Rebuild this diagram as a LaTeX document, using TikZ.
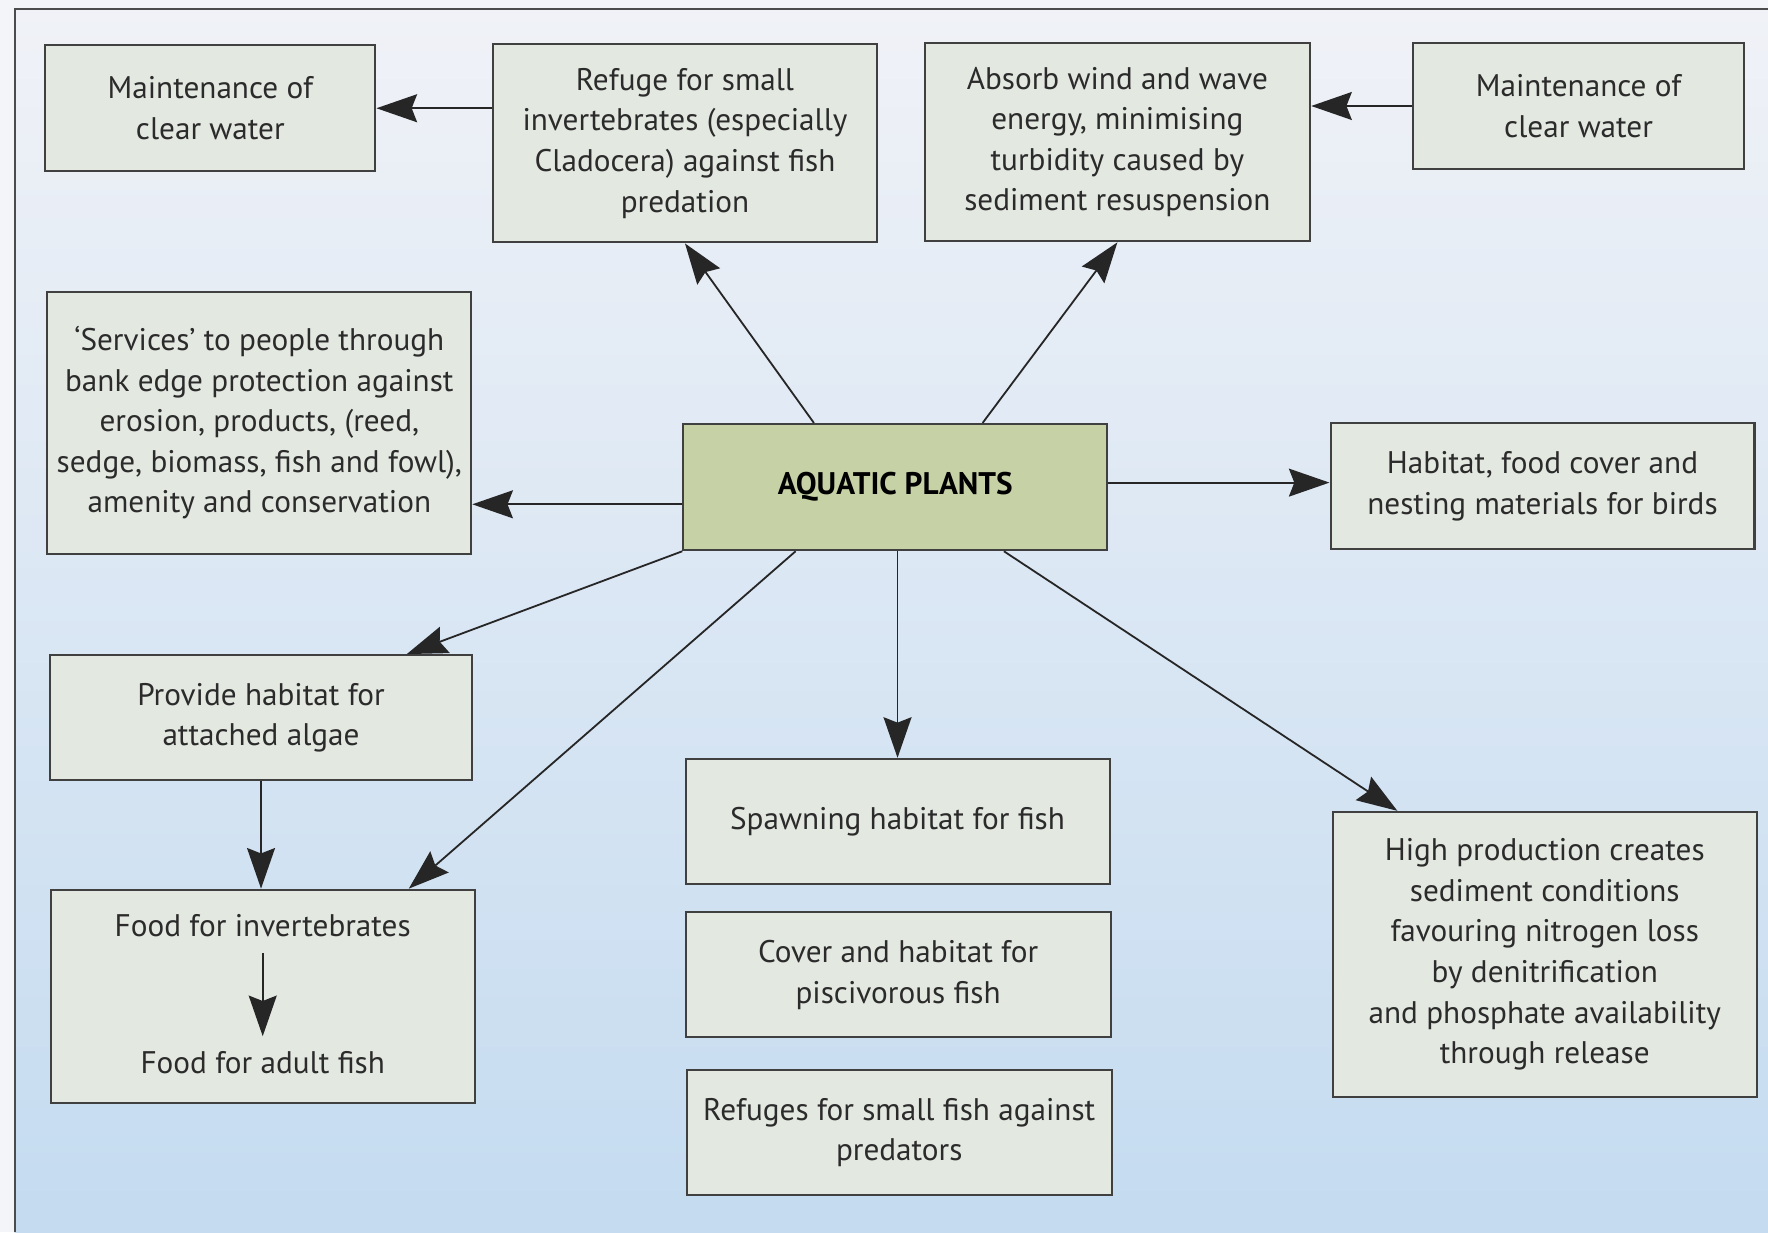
\documentclass[tikz,border=0pt]{standalone}
\usepackage{fontspec}
\setmainfont{PT Sans}
\usetikzlibrary{arrows.meta,calc}
\definecolor{boxfill}{HTML}{E3E8E1}
\definecolor{centerfill}{HTML}{C6D1A6}
\definecolor{bgtop}{HTML}{F0F2F7}
\definecolor{bgmid}{HTML}{DDE8F3}
\definecolor{bgbot}{HTML}{C4DBF0}
\definecolor{outside}{HTML}{F4F5F8}
\definecolor{txt}{HTML}{2B2B2B}
\tikzset{
  box/.style={draw=black!75, line width=0.45mm, fill=boxfill, rectangle, align=center,
    inner sep=0pt, text=txt, font=\fontsize{19.7pt}{25.6pt}\selectfont},
  plain/.style={inner sep=0pt, text=txt, font=\fontsize{19.7pt}{25.6pt}\selectfont},
  arr/.style={draw=black!85, line width=0.4mm, -{Stealth[length=9mm,width=6.2mm,inset=1.2mm]}}
}
\begin{document}
\begin{tikzpicture}[x=0.25mm, y=-0.25mm]
\useasboundingbox (0,0) rectangle (1568,1093);
\fill[outside] (0,0) rectangle (1568,1093);
\shade[top color=bgtop, middle color=bgmid, bottom color=bgbot] (13,8) rectangle (1568,1093);
\draw[black!70, line width=0.5mm] (13,1093) -- (13,8) -- (1568,8);

\node[box, minimum width=73.25mm, minimum height=28mm] (b1) at (186.5,96) {Maintenance of\\clear water};
\node[box, minimum width=85.25mm, minimum height=44mm] (b2) at (607.5,127) {Refuge for small\\invertebrates (especially\\Cladocera) against fish\\predation};
\node[box, minimum width=85.5mm, minimum height=44mm] (b3) at (991,126) {Absorb wind and wave\\energy, minimising\\turbidity caused by\\sediment resuspension};
\node[box, minimum width=73.5mm, minimum height=28mm] (b4) at (1400,94) {Maintenance of\\clear water};
\node[box, minimum width=94mm, minimum height=58mm] (b5) at (230,375) {‘Services’ to people through\\bank edge protection against\\erosion, products, (reed,\\sedge, biomass, fish and fowl),\\amenity and conservation};
\node[box, fill=centerfill, minimum width=94mm, minimum height=28mm, text=black, font=\fontsize{19.7pt}{25.6pt}\selectfont\bfseries] (c) at (794,432) {AQUATIC PLANTS};
\node[box, minimum width=94mm, minimum height=28mm] (b6) at (1368,431) {Habitat, food cover and\\nesting materials for birds};
\node[box, minimum width=93.75mm, minimum height=27.75mm] (b7) at (231.5,636.5) {Provide habitat for\\attached algae};
\node[box, minimum width=94mm, minimum height=47.25mm] (b8) at (233,883.5) {};
\node[plain] (fi) at (233,821) {Food for invertebrates};
\node[plain] (fa) at (233,942) {Food for adult fish};
\node[box, minimum width=94mm, minimum height=27.75mm] (b9) at (796,728.5) {Spawning habitat for fish};
\node[box, minimum width=94.25mm, minimum height=27.75mm] (b10) at (796.5,864.5) {Cover and habitat for\\piscivorous fish};
\node[box, minimum width=94.25mm, minimum height=27.75mm] (b11) at (797.5,1004.5) {Refuges for small fish against\\predators};
\node[box, minimum width=94mm, minimum height=63.25mm] (b12) at (1370,846.5) {High production creates\\sediment conditions\\favouring nitrogen loss\\by denitrification\\and phosphate availability\\through release};

% connectors
\draw[arr] (b2.west |- b1.east) -- (b1.east);
\draw[arr] (b4.west) -- (b4.west -| b3.east);
\draw[arr] ($(c.north west)!0.309!(c.north east)$) -- (b2.south);
\draw[arr] ($(c.north west)!0.705!(c.north east)$) -- (b3.south);
\coordinate (cl) at ($(c.north west)!0.634!(c.south west)$);
\draw[arr] (cl) -- (cl -| b5.east);
\coordinate (cr) at ($(c.north east)!0.465!(c.south east)$);
\draw[arr] (cr) -- (cr -| b6.west);
\draw[arr] (c.south west) -- ($(b7.north west)!0.843!(b7.north east)$);
\draw[arr] ($(c.south west)!0.266!(c.south east)$) -- ($(b8.north west)!0.843!(b8.north east)$);
\draw[arr] (c.south -| b9.north) -- (b9.north);
\draw[arr] ($(c.south west)!0.755!(c.south east)$) -- ($(b12.north west)!0.154!(b12.north east)$);
\draw[arr] (b7.south) -- (b7.south |- b8.north);
\draw[arr] ([yshift=-3.5mm]fi.south) -- ([yshift=3.2mm]fa.north);
\end{tikzpicture}
\end{document}
